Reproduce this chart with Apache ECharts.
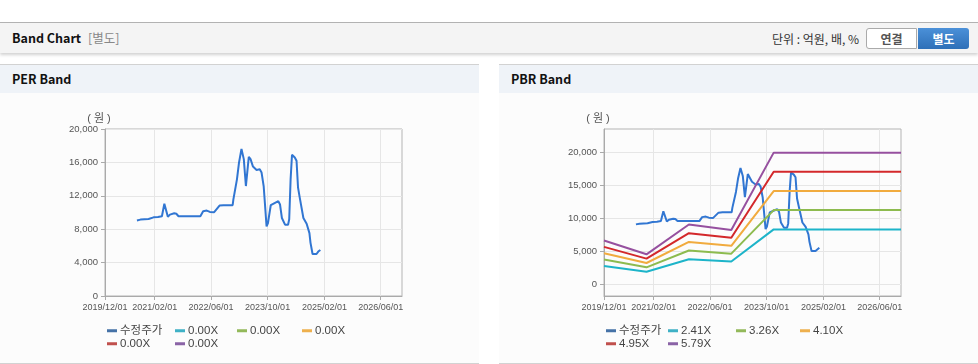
<!DOCTYPE html>
<html><head><meta charset="utf-8">
<script src="https://cdn.jsdelivr.net/npm/echarts@6/dist/echarts.min.js"></script>
<style>
html,body{margin:0;padding:0;width:978px;height:364px;overflow:hidden;background:#fff;font-family:"Liberation Sans","Noto Sans CJK KR",sans-serif;}
.abs{position:absolute;}
#topline{left:0;top:22px;width:978px;height:1px;background:#b4b4b4;}
#hdr{left:0;top:23px;width:978px;height:30px;background:#f4f4f4;box-shadow:0 2px 3px rgba(0,0,0,0.18);}
#hdrTitle{left:12px;top:30px;font-size:12.5px;font-weight:bold;color:#111;font-family:"Noto Sans CJK KR",sans-serif;line-height:16px;}
#hdrSub{left:88px;top:30px;font-size:12.5px;color:#888;font-family:"Noto Sans CJK KR",sans-serif;line-height:16px;}
#unit{left:700px;width:159px;text-align:right;top:31px;font-size:12px;color:#333;font-family:"Noto Sans CJK KR",sans-serif;line-height:15px;}
#btn1{left:866px;top:28px;width:49px;height:19px;border:1px solid #aaa;border-radius:3px 0 0 3px;background:#fff;color:#555;font-size:12px;font-weight:bold;text-align:center;line-height:19px;font-family:"Noto Sans CJK KR",sans-serif;}
#btn2{left:918px;top:28px;width:51px;height:21px;border-radius:0 3px 3px 0;background:linear-gradient(#4b90d8,#2e70b8);color:#fff;font-size:12px;font-weight:bold;text-align:center;line-height:21px;font-family:"Noto Sans CJK KR",sans-serif;}
.panel{top:64px;width:479px;height:298px;border-top:1px solid #d2d2d2;border-bottom:1px solid #d2d2d2;background:#fcfcfc;}
.ptitle{left:0;top:0;width:479px;height:28px;background:#eff3f8;}
.ptitle span{position:absolute;left:12px;top:6px;font-size:12.5px;font-weight:bold;color:#111;font-family:"Noto Sans CJK KR",sans-serif;line-height:16px;}
.chart{left:0;top:28px;width:479px;height:270px;}
</style></head>
<body>
<div id="topline" class="abs"></div>
<div id="hdr" class="abs"></div>
<div id="hdrTitle" class="abs">Band Chart</div>
<div id="hdrSub" class="abs">[별도]</div>
<div id="unit" class="abs">단위 : 억원, 배, %</div>
<div id="btn1" class="abs">연결</div>
<div id="btn2" class="abs">별도</div>
<div class="abs panel" style="left:0"><div class="abs ptitle"><span>PER Band</span></div><div id="per" class="abs chart"></div></div>
<div class="abs panel" style="left:499px"><div class="abs ptitle"><span>PBR Band</span></div><div id="pbr" class="abs chart"></div></div>
<script>
// ---- data ----
var xTickLabels = ['2019/12/01','2021/02/01','2022/06/01','2023/10/01','2025/02/01','2026/06/01'];
var xRange = ['2019/12/01','2026/12/01'];
var priceDates = ['2020/09/01','2020/10/01','2020/12/10','2021/01/22','2021/03/01','2021/04/04','2021/04/25','2021/05/25','2021/06/12','2021/07/19','2021/08/06','2021/08/25','2021/11/01','2022/03/01','2022/03/25','2022/04/25','2022/05/22','2022/06/28','2022/08/13','2022/09/16','2022/12/04','2022/12/10','2023/01/10','2023/01/28','2023/02/18','2023/02/27','2023/03/10','2023/03/28','2023/04/22','2023/05/07','2023/05/28','2023/06/28','2023/07/10','2023/07/25','2023/08/10','2023/08/28','2023/09/22','2023/10/04','2023/10/28','2023/12/04','2024/01/01','2024/01/16','2024/02/01','2024/02/28','2024/03/25','2024/04/04','2024/04/16','2024/04/28','2024/05/22','2024/06/06','2024/06/19','2024/07/04','2024/08/04','2024/09/01','2024/09/25','2024/10/04','2024/10/22','2024/11/25','2024/12/10','2024/12/28'];
var priceValues = [9050,9150,9220,9420,9450,9550,11040,9480,9750,9900,9850,9550,9550,9550,10150,10230,10070,10030,10830,10870,10870,11550,13970,15990,17600,17500,16390,13170,16670,16390,15500,15100,14940,15180,14780,13170,8340,8740,10870,11150,11350,10950,9340,8540,8540,9200,13970,16910,16590,16190,12970,11760,9340,8660,7530,6400,5030,5030,5320,5520];
var bandDates = ['2019/12/01','2020/12/01','2021/12/01','2022/12/01','2023/12/01','2026/12/01'];
var pbrBand241 = [2747,1880,3760,3415,8290,8290];
var pbrBand326 = [3716,2543,5086,4619,11214,11214];
var pbrBand410 = [4674,3198,6396,5810,14104,14104];
var pbrBand495 = [5643,3861,7722,7014,17028,17028];
var pbrBand579 = [6601,4516,9032,8204,19918,19918];
var perLegend = ['수정주가','0.00X','0.00X','0.00X','0.00X','0.00X'];
var pbrLegend = ['수정주가','2.41X','3.26X','4.10X','4.95X','5.79X'];
var perYTicks = [0,4000,8000,12000,16000,20000];
var pbrYTicks = [0,5000,10000,15000,20000];

// ---- helpers ----
function toMs(s){var p=s.split('/');return Date.UTC(+p[0],+p[1]-1,+p[2]);}
function pad(n){return (n<10?'0':'')+n;}
function fmtDate(v){var d=new Date(v);return d.getUTCFullYear()+'/'+pad(d.getUTCMonth()+1)+'/'+pad(d.getUTCDate());}
function pairs(ds,vs){return ds.map(function(d,i){return [toMs(d),vs[i]];});}
var lineColors = ['#3176d2','#1db4c9','#8dbb4f','#f1ab3e','#d3282b','#96509f'];
var legendColors = ['#4572a7','#3fb1c6','#93b95a','#eeb04e','#c0504d','#8a63a6'];
var FONT = '"Liberation Sans",sans-serif';
var LFONT = '"Liberation Sans","Noto Sans CJK KR",sans-serif';

function build(el, legendNames, seriesData, yCfg, legendPos){
  var chart = echarts.init(document.getElementById(el), null, {renderer:'canvas'});
  var ids = ['s0','s1','s2','s3','s4','s5'];
  var series = ids.map(function(id,i){
    return {name:id,type:'line',data:seriesData[i],showSymbol:false,symbol:'none',
      lineStyle:{width:2,color:lineColors[i]},itemStyle:{color:lineColors[i]},animation:false};
  });
  var legends = ids.map(function(id,i){
    return {show:true,left:legendPos[i][0],top:legendPos[i][1],padding:0,itemWidth:10,itemHeight:3,
      icon:'rect',selectedMode:false,
      data:[{name:id,itemStyle:{color:legendColors[i]},lineStyle:{opacity:0}}],
      formatter:function(n){return legendNames[ids.indexOf(n)];},
      textStyle:{fontSize:11.5,color:'#444',fontFamily:LFONT,padding:[0,0,0,-2]}};
  });
  chart.setOption({
    animation:false,
    grid:{left:105,top:36,right:77,bottom:67,show:true,borderColor:'#b4b4b4',borderWidth:1,backgroundColor:'transparent'},
    legend:legends,
    xAxis:{type:'value',min:toMs(xRange[0]),max:toMs(xRange[1]),
      axisLine:{onZero:false,lineStyle:{color:'#aaa'}},
      axisTick:{show:true,length:4,lineStyle:{color:'#aaa'},customValues:xTickLabels.map(toMs)},
      axisLabel:{customValues:xTickLabels.map(toMs),formatter:fmtDate,color:'#555',fontSize:9,fontFamily:FONT,margin:7,hideOverlap:false,showMinLabel:true,showMaxLabel:true},
      splitLine:{show:true,lineStyle:{color:'#e6e6e6'}}},
    yAxis:{type:'value',min:yCfg.min,max:yCfg.max,name:'( 원 )',nameLocation:'end',nameGap:5,
      nameTextStyle:{color:'#555',fontSize:11,fontFamily:LFONT,padding:[0,12,0,0]},
      axisLine:{show:true,lineStyle:{color:'#aaa'}},
      axisTick:{show:true,length:4,lineStyle:{color:'#aaa'},customValues:yCfg.ticks},
      axisLabel:{customValues:yCfg.ticks,color:'#555',fontSize:9.5,fontFamily:FONT,margin:7,
        formatter:function(v){return v.toLocaleString('en-US');}},
      splitLine:{show:true,lineStyle:{color:'#e6e6e6'}}},
    series:series
  });
}

var price = pairs(priceDates, priceValues);
build('per', perLegend, [price,[],[],[],[],[]], {min:0,max:20000,ticks:perYTicks},
  [[107,232],[175,232],[237,232],[302,232],[107,245],[175,245]]);
build('pbr', pbrLegend, [price,pairs(bandDates,pbrBand241),pairs(bandDates,pbrBand326),pairs(bandDates,pbrBand410),pairs(bandDates,pbrBand495),pairs(bandDates,pbrBand579)],
  {min:-1800,max:23500,ticks:pbrYTicks},
  [[107,232],[169,232],[237,232],[301,232],[107,245],[169,245]]);
</script>
</body></html>
